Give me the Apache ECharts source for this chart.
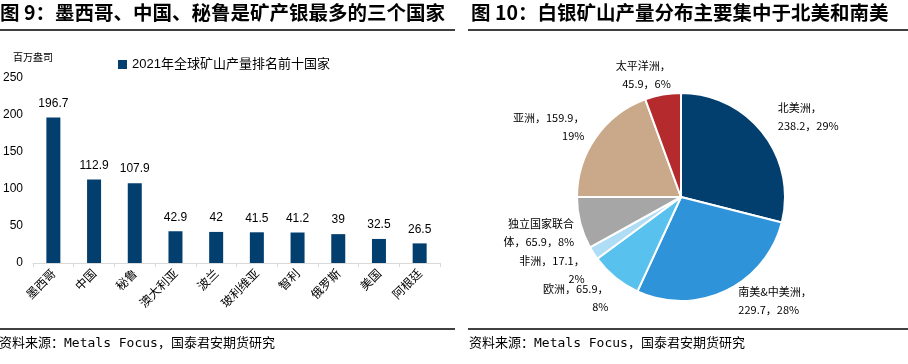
<!DOCTYPE html>
<html><head><meta charset="utf-8">
<script src="https://cdn.jsdelivr.net/npm/echarts@6/dist/echarts.min.js"></script>
<style>html,body{margin:0;padding:0;background:#fff}#c{width:908px;height:364px}</style>
</head><body><div id="c"></div>
<script>
const countries = ['墨西哥','中国','秘鲁','澳大利亚','波兰','玻利维亚','智利','俄罗斯','美国','阿根廷'];
const production = [196.7,112.9,107.9,42.9,42,41.5,41.2,39,32.5,26.5];
const barSeriesName = '2021年全球矿山产量排名前十国家';
const yTicks = [0,50,100,150,200,250];
const regions = ['北美洲','南美&中美洲','欧洲','非洲','独立国家联合体','亚洲','太平洋洲'];
const regionValues = [238.2,229.7,65.9,17.1,65.9,159.9,45.9];
const regionColors = ['#023E6E','#2E93D8','#59C1EE','#AEDDF5','#A6A6A6','#C9A98A','#B42A2D'];

const CJK = "'Noto Sans CJK SC'";
const chart = echarts.init(document.getElementById('c'), null, {renderer:'canvas'});

function pieLabel(p){
  const n = p.name, v = p.value, d = p.percent + '%';
  switch(p.dataIndex){
    case 2: case 3: case 5: return n+'，'+v+'，\n'+d;
    case 4: return n.slice(0,6)+'\n'+n.slice(6)+'，'+v+'，'+d;
    default: return n+'，\n'+v+'，'+d;
  }
}
const labelShift = [[5,-13],[5,5],[2,-3],[1,7],[1,8],[-6,-7],[14,-14]];

chart.setOption({
  animation:false,
  textStyle:{fontFamily:CJK},
  legend:{left:113, top:53, itemWidth:9, itemHeight:9, icon:'rect', itemGap:3,
    textStyle:{fontSize:13, color:'#000', fontFamily:"'Liberation Sans','Noto Sans CJK SC'"}, data:[barSeriesName]},
  grid:{left:32, right:468, top:78, bottom:101},
  xAxis:{type:'category', data:countries,
    axisLine:{lineStyle:{color:'#D9D9D9'}},
    axisTick:{show:true, length:4, lineStyle:{color:'#D9D9D9'}},
    axisLabel:{rotate:45, fontSize:12, color:'#000', interval:0, margin:8, fontFamily:CJK}},
  yAxis:{type:'value', min:yTicks[0], max:yTicks[yTicks.length-1], interval:50,
    name:'百万盎司', nameLocation:'end', nameGap:16,
    nameTextStyle:{fontSize:10, color:'#000', align:'center', padding:[0,0,0,0]},
    axisLine:{show:false}, axisTick:{show:false}, splitLine:{show:false},
    axisLabel:{fontSize:12, color:'#000', margin:10, fontFamily:"'Liberation Sans'"}},
  series:[{
    name:barSeriesName, type:'bar', data:production, barWidth:14,
    itemStyle:{color:'#023E6E'},
    label:{show:true, position:'top', distance:8, fontSize:12, color:'#000', fontFamily:"'Liberation Sans'"}
  },{
    type:'pie', center:[681,197], radius:104, startAngle:90, clockwise:true,
    percentPrecision:0,
    data: regions.map((r,i)=>({name:r, value:regionValues[i], itemStyle:{color:regionColors[i]}})),
    itemStyle:{borderColor:'#fff', borderWidth:2},
    label:{show:true, position:'outside', formatter:pieLabel, fontSize:11, lineHeight:18, color:'#000', align:'center'},
    labelLine:{show:false, length:6, length2:0},
    labelLayout: p => ({dx:labelShift[p.dataIndex][0], dy:labelShift[p.dataIndex][1], hideOverlap:false})
  }],
  graphic:[
    {type:'text', left:0, top:3, style:{text:'图 9：墨西哥、中国、秘鲁是矿产银最多的三个国家', font:"bold 19.5px 'Noto Sans CJK SC'", fill:'#000'}},
    {type:'text', left:471, top:3, style:{text:'图 10：白银矿山产量分布主要集中于北美和南美', font:"bold 19.5px 'Noto Sans CJK SC'", fill:'#000'}},
    {type:'line', shape:{x1:0,y1:30,x2:455,y2:30}, style:{stroke:'#000', lineWidth:1.5}},
    {type:'line', shape:{x1:468,y1:30,x2:908,y2:30}, style:{stroke:'#000', lineWidth:1.5}},
    {type:'line', shape:{x1:0,y1:329,x2:455,y2:329}, style:{stroke:'#000', lineWidth:1.5}},
    {type:'line', shape:{x1:468,y1:329,x2:908,y2:329}, style:{stroke:'#000', lineWidth:1.5}},
    {type:'text', left:-1, top:337, style:{text:'资料来源：Metals Focus，国泰君安期货研究', font:"13px 'DejaVu Sans Mono','Noto Sans CJK SC'", fill:'#000'}},
    {type:'text', left:469, top:337, style:{text:'资料来源：Metals Focus，国泰君安期货研究', font:"13px 'DejaVu Sans Mono','Noto Sans CJK SC'", fill:'#000'}}
  ]
});
</script></body></html>
